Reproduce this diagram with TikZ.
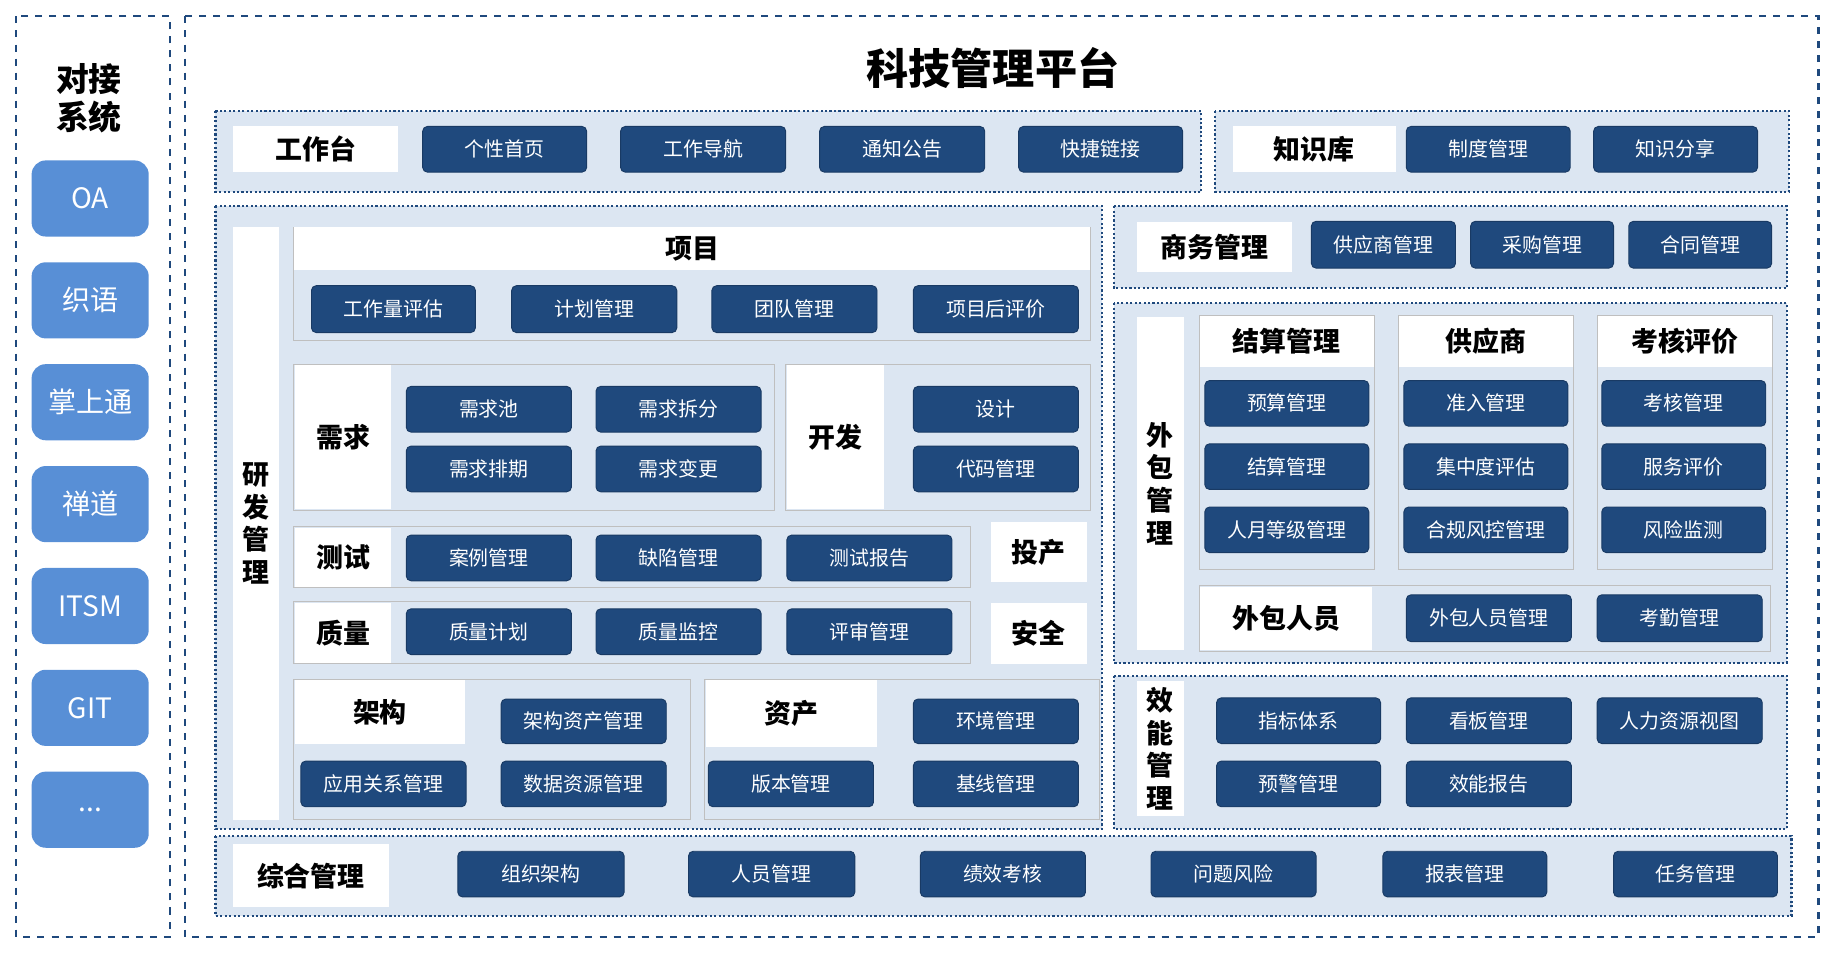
\documentclass[tikz,border=0pt]{standalone}
\usepackage{fontspec}
\newfontfamily\cjk{Noto Sans CJK SC}
\begin{document}
\begin{tikzpicture}[x=0.5pt,y=-0.5pt,
  btn/.style={fill=dkb,draw=dkb!80!black,rounded corners=2pt,text=white,font=\cjk\fontsize{8.5}{10}\selectfont,inner sep=0pt},
  lbl/.style={fill=white,draw=none,inner sep=0pt,font=\cjk\bfseries\fontsize{11.5}{13}\selectfont},
  pnl/.style={fill=pbg,draw=dkb,densely dotted,line width=0.9pt},
  sub/.style={fill=pbg,draw=gray!50,line width=0.4pt},
  sys/.style={fill=lbtn,rounded corners=6pt,text=white,inner sep=0pt,font=\cjk\fontsize{12}{14}\selectfont}]
\definecolor{dkb}{RGB}{31,73,125}
\definecolor{pbg}{RGB}{220,230,242}
\definecolor{lbtn}{RGB}{88,143,214}
\useasboundingbox (0,0) rectangle (1568,815);
\newcommand\B[6][btn]{\node[#1,minimum width={(#4-#2)*0.5pt},minimum height={(#5-#3)*0.5pt}] (#6) at ({(#2+#4)/2},{(#3+#5)/2}) {#6};}
% frames
\draw[dkb,dashed,line width=0.9pt] (14,14) rectangle (145,800);
\draw[dkb,dashed,line width=0.9pt] (158,14) rectangle (1553,800);
\node[font=\cjk\bfseries\fontsize{14}{16}\selectfont,align=center] (dj) at (76,84) {对接\\系统};
\B[sys]{27}{137}{127}{202}{OA}
\B[sys]{27}{224}{127}{289}{织语}
\B[sys]{27}{311}{127}{376}{掌上通}
\B[sys]{27}{398}{127}{463}{禅道}
\B[sys]{27}{485}{127}{550}{ITSM}
\B[sys]{27}{572}{127}{637}{GIT}
\B[sys]{27}{659}{127}{724}{...}
\node[font=\cjk\bfseries\fontsize{18}{20}\selectfont] (title) at (848,58) {科技管理平台};
% workbench
\draw[pnl] (184,95) rectangle (1026,164);
\B[lbl]{199}{108}{340}{147}{工作台}
\B{361}{108}{501}{147}{个性首页}
\B{530}{108}{671}{147}{工作导航}
\B{700}{108}{841}{147}{通知公告}
\B{870}{108}{1010}{147}{快捷链接}
\draw[pnl] (1038,95) rectangle (1528,164);
\B[lbl]{1053}{108}{1192}{147}{知识库}
\B{1201}{108}{1341}{147}{制度管理}
\B{1361}{108}{1501}{147}{知识分享}
% R&D
\draw[pnl] (184,176) rectangle (941,708);
\node[fill=white,minimum width=19.5pt,minimum height=253pt,inner sep=0pt] (yf) at (218.5,447) {};
\node[font=\cjk\bfseries\fontsize{11.5}{14}\selectfont,align=center] at (yf) {研\\发\\管\\理};
\draw[sub] (251,194) rectangle (931,291);
\B[lbl]{251}{194}{931}{231}{项目}
\B{266}{244}{406}{284}{工作量评估}
\B{437}{244}{578}{284}{计划管理}
\B{608}{244}{749}{284}{团队管理}
\B{780}{244}{921}{284}{项目后评价}
\draw[sub] (251,311) rectangle (661,436);
\B[lbl]{252}{312}{334}{435}{需求}
\B{347}{330}{488}{369}{需求池}
\B{509}{330}{650}{369}{需求拆分}
\B{347}{381}{488}{420}{需求排期}
\B{509}{381}{650}{420}{需求变更}
\draw[sub] (671,311) rectangle (931,436);
\B[lbl]{672}{312}{755}{435}{开发}
\B{780}{330}{921}{369}{设计}
\B{780}{381}{921}{420}{代码管理}
\draw[sub] (251,450) rectangle (829,502);
\B[lbl]{252}{451}{334}{501}{测试}
\B{347}{457}{488}{496}{案例管理}
\B{509}{457}{650}{496}{缺陷管理}
\B{672}{457}{813}{496}{测试报告}
\B[lbl]{846}{446}{928}{497}{投产}
\B[lbl]{846}{515}{928}{567}{安全}
\draw[sub] (251,514) rectangle (829,567);
\B[lbl]{252}{515}{334}{566}{质量}
\B{347}{520}{488}{559}{质量计划}
\B{509}{520}{650}{559}{质量监控}
\B{672}{520}{813}{559}{评审管理}
\draw[sub] (251,580) rectangle (590,700);
\B[lbl]{252}{581}{397}{635}{架构}
\B{428}{597}{569}{635}{架构资产管理}
\B{257}{650}{398}{689}{应用关系管理}
\B{428}{650}{569}{689}{数据资源管理}
\draw[sub] (602,580) rectangle (939,700);
\B[lbl]{603}{581}{749}{638}{资产}
\B{780}{597}{921}{635}{环境管理}
\B{605}{650}{746}{689}{版本管理}
\B{780}{650}{921}{689}{基线管理}
% business
\draw[pnl] (951,176) rectangle (1526,246);
\B[lbl]{971}{190}{1103}{232}{商务管理}
\B{1120}{189}{1243}{229}{供应商管理}
\B{1256}{189}{1378}{229}{采购管理}
\B{1391}{189}{1513}{229}{合同管理}
% outsourcing
\draw[pnl] (951,259) rectangle (1526,566);
\node[fill=white,minimum width=20pt,minimum height=142pt,inner sep=0pt] (wb) at (991,413) {};
\node[font=\cjk\bfseries\fontsize{11.5}{14}\selectfont,align=center] at (wb) {外\\包\\管\\理};
\draw[sub] (1024,269) rectangle (1174,486);
\draw[sub] (1194,269) rectangle (1344,486);
\draw[sub] (1364,269) rectangle (1514,486);
\B[lbl]{1025}{270}{1173}{313}{结算管理}
\B[lbl]{1195}{270}{1343}{313}{供应商}
\B[lbl]{1365}{270}{1513}{313}{考核评价}
\B{1029}{325}{1169}{364}{预算管理}
\B{1029}{379}{1169}{418}{结算管理}
\B{1029}{433}{1169}{472}{人月等级管理}
\B{1199}{325}{1339}{364}{准入管理}
\B{1199}{379}{1339}{418}{集中度评估}
\B{1199}{433}{1339}{472}{合规风控管理}
\B{1368}{325}{1508}{364}{考核管理}
\B{1368}{379}{1508}{418}{服务评价}
\B{1368}{433}{1508}{472}{风险监测}
\draw[sub] (1024,500) rectangle (1512,556);
\B[lbl]{1025}{501}{1172}{555}{外包人员}
\B{1201}{508}{1342}{548}{外包人员管理}
\B{1364}{508}{1505}{548}{考勤管理}
% efficiency
\draw[pnl] (951,577) rectangle (1526,708);
\node[fill=white,minimum width=20pt,minimum height=57.5pt,inner sep=0pt] (xn) at (991,639.5) {};
\node[font=\cjk\bfseries\fontsize{11.5}{14}\selectfont,align=center] at (xn) {效\\能\\管\\理};
\B{1039}{596}{1179}{635}{指标体系}
\B{1201}{596}{1342}{635}{看板管理}
\B{1364}{596}{1505}{635}{人力资源视图}
\B{1039}{650}{1179}{689}{预警管理}
\B{1201}{650}{1342}{689}{效能报告}
% comprehensive
\draw[pnl] (184,714) rectangle (1530,782);
\B[lbl]{199}{721}{332}{775}{综合管理}
\B{391}{727}{533}{766}{组织架构}
\B{588}{727}{730}{766}{人员管理}
\B{786}{727}{927}{766}{绩效考核}
\B{983}{727}{1124}{766}{问题风险}
\B{1181}{727}{1321}{766}{报表管理}
\B{1378}{727}{1518}{766}{任务管理}
\end{tikzpicture}
\end{document}
